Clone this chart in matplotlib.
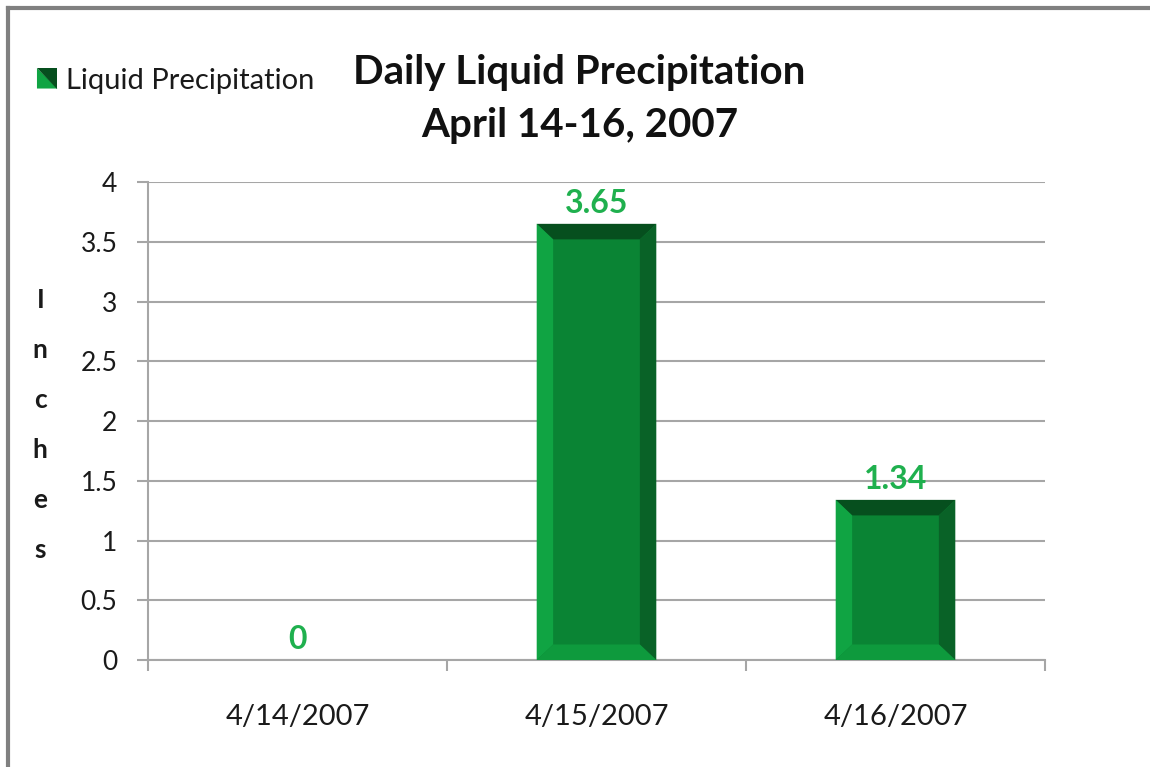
import matplotlib
matplotlib.use("Agg")
import matplotlib.pyplot as plt
from matplotlib.patches import Polygon, Rectangle
from matplotlib.lines import Line2D
from matplotlib.legend_handler import HandlerBase

# ---- data ----
categories = ["4/14/2007", "4/15/2007", "4/16/2007"]
values = [0, 3.65, 1.34]
series_name = "Liquid Precipitation"
title_text = "Daily Liquid Precipitation\nApril 14-16, 2007"
ylabel_text = "Inches"
yticks = [0, 0.5, 1, 1.5, 2, 2.5, 3, 3.5, 4]
ytick_labels = ["0", "0.5", "1", "1.5", "2", "2.5", "3", "3.5", "4"]

FONT = ["Lato", "DejaVu Sans"]
plt.rcParams["font.family"] = FONT

FACE = "#0a8434"
LEFT = "#10a443"
RIGHT = "#096227"
TOP = "#064f1e"
BOTTOM = "#0e9a3d"
LABEL_GREEN = "#1fb04e"
GRID = "#a6a6a6"
TEXT = "#1a1a1a"

fig = plt.figure(figsize=(11.5, 7.67), dpi=100)
fig.patch.set_facecolor("white")
ax = fig.add_axes([0.1287, 0.1395, 0.78, 0.6232])

x = list(range(len(categories)))
bw = 0.4
bars = ax.bar(x, values, width=bw, color=FACE, edgecolor="none", zorder=3)

ax.set_xlim(-0.5, len(categories) - 0.5)
ax.set_ylim(0, 4)

# bevel decoration derived from each bar's geometry
bx = 0.055
by = 0.13
for r in bars:
    x0, y0, w, h = r.get_x(), r.get_y(), r.get_width(), r.get_height()
    if h <= 0:
        continue
    x1, y1 = x0 + w, y0 + h
    ax.add_patch(Polygon([(x0, y1), (x1, y1), (x1 - bx, y1 - by), (x0 + bx, y1 - by)],
                         closed=True, color=TOP, zorder=4, lw=0))
    ax.add_patch(Polygon([(x0, y0), (x0, y1), (x0 + bx, y1 - by), (x0 + bx, y0 + by)],
                         closed=True, color=LEFT, zorder=4, lw=0))
    ax.add_patch(Polygon([(x1, y0), (x1, y1), (x1 - bx, y1 - by), (x1 - bx, y0 + by)],
                         closed=True, color=RIGHT, zorder=4, lw=0))
    ax.add_patch(Polygon([(x0, y0), (x1, y0), (x1 - bx, y0 + by), (x0 + bx, y0 + by)],
                         closed=True, color=BOTTOM, zorder=4, lw=0))

# value labels
for xi, v in zip(x, values):
    ax.text(xi, v + 0.05, f"{v:g}", ha="center", va="bottom",
            fontsize=23, fontweight="bold", color=LABEL_GREEN, zorder=5)

# grid and axes styling
ax.set_yticks(yticks)
ax.set_yticklabels(ytick_labels, fontsize=19, color=TEXT)
ax.yaxis.grid(True, color=GRID, lw=1.5, zorder=0)
ax.set_axisbelow(True)
ax.tick_params(axis="y", direction="out", length=8, width=1.5, color=GRID, pad=14)

ax.set_xticks([i - 0.5 for i in range(len(categories) + 1)], minor=False)
ax.set_xticklabels([])
ax.set_xticks(x, minor=True)
ax.set_xticklabels(categories, minor=True, fontsize=21, color=TEXT)
ax.tick_params(axis="x", which="minor", length=0, pad=32)
ax.tick_params(axis="x", which="major", direction="out", length=8, width=1.5, color=GRID)

for s in ["top", "right"]:
    ax.spines[s].set_visible(False)
for s in ["left", "bottom"]:
    ax.spines[s].set_color(GRID)
    ax.spines[s].set_linewidth(1.5)

# stacked y label
fig.text(0.035, 0.446, "\n".join(ylabel_text), ha="center", va="center",
         fontsize=19, fontweight="bold", linespacing=2.3, color=TEXT)

# title
fig.text(0.504, 0.871, title_text, ha="center", va="center", fontsize=29,
         fontweight="bold", linespacing=1.55, color="#111111")


# legend with two-tone square
class BevelHandler(HandlerBase):
    def create_artists(self, legend, orig_handle, xdescent, ydescent, width, height, fontsize, trans):
        s = height * 1.0
        x0 = xdescent + width - s
        y0 = -ydescent + (height - s) / 2
        p1 = Polygon([(x0, y0), (x0, y0 + s), (x0 + s, y0)], closed=True, color=LEFT, transform=trans, lw=0)
        p2 = Polygon([(x0, y0 + s), (x0 + s, y0 + s), (x0 + s, y0)], closed=True, color=TOP, transform=trans, lw=0)
        return [p1, p2]


handle = Rectangle((0, 0), 1, 1, color=FACE)
fig.legend([handle], [series_name], handler_map={Rectangle: BevelHandler()},
           loc="center left", bbox_to_anchor=(0.022, 0.895), frameon=False,
           fontsize=21, handlelength=0.7, handletextpad=0.3, borderaxespad=0,
           labelcolor=TEXT)

# outer border (top and left)
fig.add_artist(Line2D([0.007, 1.0], [0.9895, 0.9895], transform=fig.transFigure, color="#808080", lw=3))
fig.add_artist(Line2D([0.007, 0.007], [0.0, 0.9895], transform=fig.transFigure, color="#808080", lw=3))

fig.savefig("out.png", dpi=100, facecolor="white")
